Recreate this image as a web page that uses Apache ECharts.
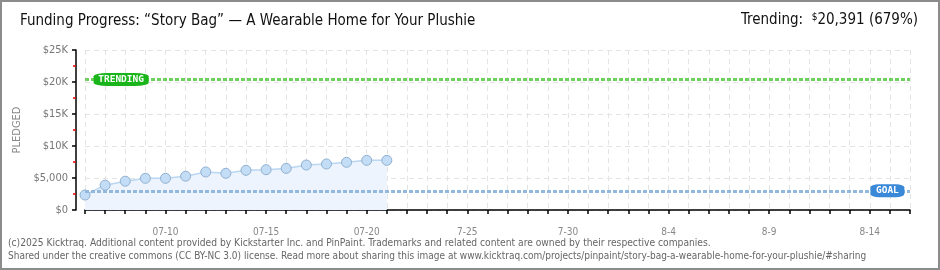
<!DOCTYPE html>
<html><head><meta charset="utf-8">
<script src="https://cdn.jsdelivr.net/npm/echarts@6/dist/echarts.min.js"></script>
<style>html,body{margin:0;padding:0;background:#fff}#c{width:940px;height:270px}</style>
</head><body><div id="c"></div>
<script>
// ---- data ----
const categories = ['07-06','07-07','07-08','07-09','07-10','07-11','07-12','07-13','07-14','07-15','07-16','07-17','07-18','07-19','07-20','07-21','07-22','07-23','07-24','07-25','07-26','07-27','07-28','07-29','07-30','07-31','08-01','08-02','08-03','08-04','08-05','08-06','08-07','08-08','08-09','08-10','08-11','08-12','08-13','08-14','08-15','08-16'];
const pledged = [2340, 3880, 4500, 4950, 4950, 5280, 5940, 5730, 6200, 6300, 6500, 7030, 7190, 7450, 7760, 7760];
const tickDates = ['07-10','07-15','07-20','07-25','07-30','08-04','08-09','08-14'];
const tickTexts = ['07-10','07-15','07-20','7-25','7-30','8-4','8-9','8-14'];
const yTickValues = [0, 5000, 10000, 15000, 20000, 25000];
const yTickTexts = ['$0','$5,000','$10K','$15K','$20K','$25K'];
const trendingValue = 20391;
const goalValue = 3000;
const trendingLabelAt = '07-07';
const goalLabelAt = '08-15';
const titleText = 'Funding Progress: \u201cStory Bag\u201d \u2014 A Wearable Home for Your Plushie';
const footer1 = '(c)2025 Kicktraq. Additional content provided by Kickstarter Inc. and PinPaint. Trademarks and related content are owned by their respective companies.';
const footer2 = 'Shared under the creative commons (CC BY-NC 3.0) license. Read more about sharing this image at www.kicktraq.com/projects/pinpaint/story-bag-a-wearable-home-for-your-plushie/#sharing';

const FONT = '"DejaVu Sans Condensed","DejaVu Sans",sans-serif';
const chart = echarts.init(document.getElementById('c'), null, {renderer:'canvas'});
chart.setOption({
  animation: false,
  backgroundColor: '#fff',
  grid: {left: 85, right: 30, top: 50, bottom: 60},
  graphic: [
    {type:'rect', shape:{x:1,y:1,width:938,height:268}, style:{fill:'none', stroke:'#8c8c8c', lineWidth:2}, silent:true},
    {type:'text', left: 20, top: 14, style:{text: titleText, font: '15px ' + FONT, fill:'#111'}},
    {type:'text', right: 22, top: 12, style:{
      text: '{a|Trending:  }{s|$}{a|20,391 (679%)}',
      rich: {a:{font:'15px ' + FONT, fill:'#111', color:'#111'}, s:{font:'10px ' + FONT, color:'#111', verticalAlign:'top', padding:[0,0,6,0]}}
    }},
    {type:'text', left: 8, top: 238, style:{text: footer1, font: '10.2px ' + FONT, fill:'#666'}},
    {type:'text', left: 8, top: 251, style:{text: footer2, font: '10px ' + FONT, fill:'#666'}}
  ],
  xAxis: {
    type: 'category', data: categories, boundaryGap: false, offset: 10,
    axisLine: {lineStyle: {color:'#000', width:1.5}},
    axisTick: {show:true, length:4, lineStyle:{color:'#000', width:1.5}, interval: 0},
    axisLabel: {
      interval: (i, v) => tickDates.indexOf(v) >= 0,
      formatter: v => tickTexts[tickDates.indexOf(v)],
      color:'#888', fontFamily: FONT, fontSize: 10, margin: 7
    },
    splitLine: {show:true, interval: 0, lineStyle:{color:'#e4e4e4', type:[5,4]}}
  },
  yAxis: {
    type: 'value', min: 0, max: 25000, interval: 5000, offset: 9,
    name: 'PLEDGED', nameLocation: 'middle', nameRotate: 90, nameGap: 51,
    nameTextStyle: {color:'#888', fontFamily: FONT, fontSize: 11},
    axisLine: {show:true, lineStyle:{color:'#000', width:1.5}},
    axisTick: {show:true, length:4, lineStyle:{color:'#000', width:1.5}},
    minorTick: {show:true, splitNumber:2, length:3, lineStyle:{color:'#e00000', width:1.5}},
    axisLabel: {
      formatter: v => yTickTexts[yTickValues.indexOf(v)],
      color:'#777', fontFamily: FONT, fontSize: 11, margin: 8
    },
    splitLine: {show:true, lineStyle:{color:'#e4e4e4', type:[5,4]}}
  },
  series: [{
    type: 'line', data: pledged,
    symbol: 'circle', symbolSize: 10,
    lineStyle: {color:'#b9d6f2', width:1.5},
    itemStyle: {color:'#c4ddf6', borderColor:'#90b0d0', borderWidth:1},
    areaStyle: {color:'#edf4fd', opacity:1},
    markLine: {
      silent: true, symbol: 'none', label: {show:false},
      data: [
        {yAxis: trendingValue, lineStyle:{color:'#6fd060', width:3, type:[4,2]}},
        {yAxis: goalValue, lineStyle:{color:'#93b8de', width:3, type:[4,2]}}
      ]
    },
    markPoint: {
      silent: true,
      data: [
        {coord:[trendingLabelAt, trendingValue], symbol:'roundRect', symbolSize:[55,13], symbolOffset:[16,0],
         itemStyle:{color:'#1ab51a'},
         label:{show:true, position:'inside', formatter:'TRENDING', color:'#fff', fontFamily:'"DejaVu Sans Mono",monospace', fontWeight:'bold', fontSize:9.5}},
        {coord:[goalLabelAt, goalValue], symbol:'roundRect', symbolSize:[34,13], symbolOffset:[-2.5,0],
         itemStyle:{color:'#3a88d8'},
         label:{show:true, position:'inside', formatter:'GOAL', color:'#fff', fontFamily:'"DejaVu Sans Mono",monospace', fontWeight:'bold', fontSize:9.5}}
      ]
    }
  }]
});
</script></body></html>
